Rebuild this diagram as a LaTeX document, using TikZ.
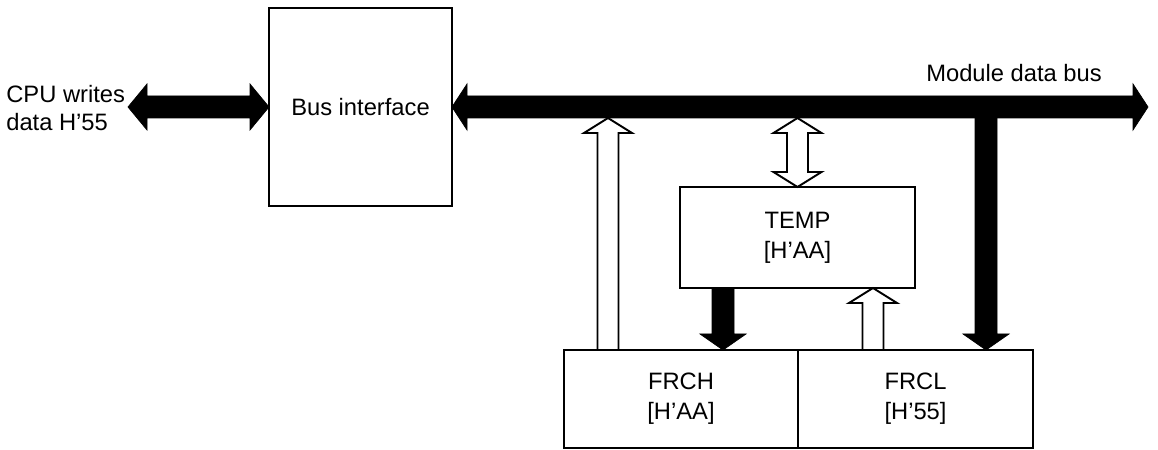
\documentclass[tikz,border=0pt]{standalone}
\usepackage{fontspec}
\setmainfont{Liberation Sans}
\usetikzlibrary{positioning, calc}
\tikzset{
    diagram/.style={line join=miter, font=\fontsize{13.5}{17}\selectfont},
    block/.style={draw=black, line width=1.1pt, fill=white, align=center,
                  inner sep=0pt, outer sep=0pt},
    hollow/.style={draw=black, line width=1.1pt, fill=white},
    fatbus/.style={draw=black, line width=0.4pt, fill=black},
    buslabel/.style={font=\fontsize{13.5}{15.5}\selectfont, align=left, inner sep=0pt},
    % block arrows, drawn as outlines between two points
    uparrow/.style={to path={let \p1=(\tikztostart), \p2=(\tikztotarget) in
        (\x1-2.1mm,\y1) -- (\x1-2.1mm,\y2-3mm) -- (\x1-4.8mm,\y2-3mm) -- (\x1,\y2)
        -- (\x1+4.8mm,\y2-3mm) -- (\x1+2.1mm,\y2-3mm) -- (\x1+2.1mm,\y1) -- cycle}},
    downarrow/.style={to path={let \p1=(\tikztostart), \p2=(\tikztotarget) in
        (\x1-2.2mm,\y1) -- (\x1-2.2mm,\y2+3.2mm) -- (\x1-4.6mm,\y2+3.2mm) -- (\x1,\y2)
        -- (\x1+4.6mm,\y2+3.2mm) -- (\x1+2.2mm,\y2+3.2mm) -- (\x1+2.2mm,\y1) -- cycle}},
    vdouble/.style={to path={let \p1=(\tikztostart), \p2=(\tikztotarget) in
        (\x1,\y1) -- (\x1+4.8mm,\y1-3mm) -- (\x1+2.1mm,\y1-3mm) -- (\x1+2.1mm,\y2+3mm)
        -- (\x1+4.8mm,\y2+3mm) -- (\x1,\y2) -- (\x1-4.8mm,\y2+3mm) -- (\x1-2.1mm,\y2+3mm)
        -- (\x1-2.1mm,\y1-3mm) -- (\x1-4.8mm,\y1-3mm) -- cycle}},
    hdouble/.style={to path={let \p1=(\tikztostart), \p2=(\tikztotarget) in
        (\x1,\y1) -- (\x1+#1,\y1+4.6mm) -- (\x1+#1,\y1+2.2mm) -- (\x2-#1,\y1+2.2mm)
        -- (\x2-#1,\y1+4.6mm) -- (\x2,\y1) -- (\x2-#1,\y1-4.6mm) -- (\x2-#1,\y1-2.2mm)
        -- (\x1+#1,\y1-2.2mm) -- (\x1+#1,\y1-4.6mm) -- cycle}},
    hdouble/.default=3mm,
}

\begin{document}
\begin{tikzpicture}[diagram, x=0.2mm, y=-0.2mm]
\useasboundingbox (0,0) rectangle (1158,450);

% ─── Blocs ──────────────────────────────────────────────────────────────
\node[block, minimum width=36.6mm, minimum height=39.6mm] (busif) at (360.5,107) {Bus interface};
\node[block, minimum width=47mm, minimum height=20.2mm] (temp) at (797.5,237.5) {TEMP\\{[H’AA]}};
\node[block, minimum width=46.8mm, minimum height=19.6mm] (frch) at (681,399) {FRCH\\{[H’AA]}};
\node[block, minimum width=47mm, minimum height=19.6mm, right=0pt of frch] (frcl) {FRCL\\{[H’55]}};

% ─── Textes ─────────────────────────────────────────────────────────────
\node[buslabel, anchor=west] (cpu) at (6,108) {CPU writes\\data H’55};
\node[inner sep=0pt] (modbus) at (1014,73) {Module data bus};

% ─── Points du bus ──────────────────────────────────────────────────────
\coordinate (cpuend) at (128,0 |- busif.west);
\coordinate (busend) at (1148,0 |- busif.east);
\coordinate (tapH)   at (608,118);
\coordinate (tapT)   at (temp.north |- 0,118);
\coordinate (tapL)   at (986,0 |- busif.east);

% ─── Bus (noir) ─────────────────────────────────────────────────────────
\draw[fatbus] (cpuend) to[hdouble=3.8mm] (busif.west);
\draw[fatbus] (busif.east) to[hdouble] (busend);
\draw[fatbus] (tapL) to[downarrow] (frcl.north -| tapL);
\draw[fatbus] (temp.south -| 723,0) to[downarrow] (frch.north -| 723,0);

% ─── Flèches creuses ────────────────────────────────────────────────────
\draw[hollow] (frch.north -| tapH) to[uparrow] (tapH);
\draw[hollow] (tapT) to[vdouble] (temp.north);
\draw[hollow] (frcl.north -| 873,0) to[uparrow] (temp.south -| 873,0);

\end{tikzpicture}
\end{document}
